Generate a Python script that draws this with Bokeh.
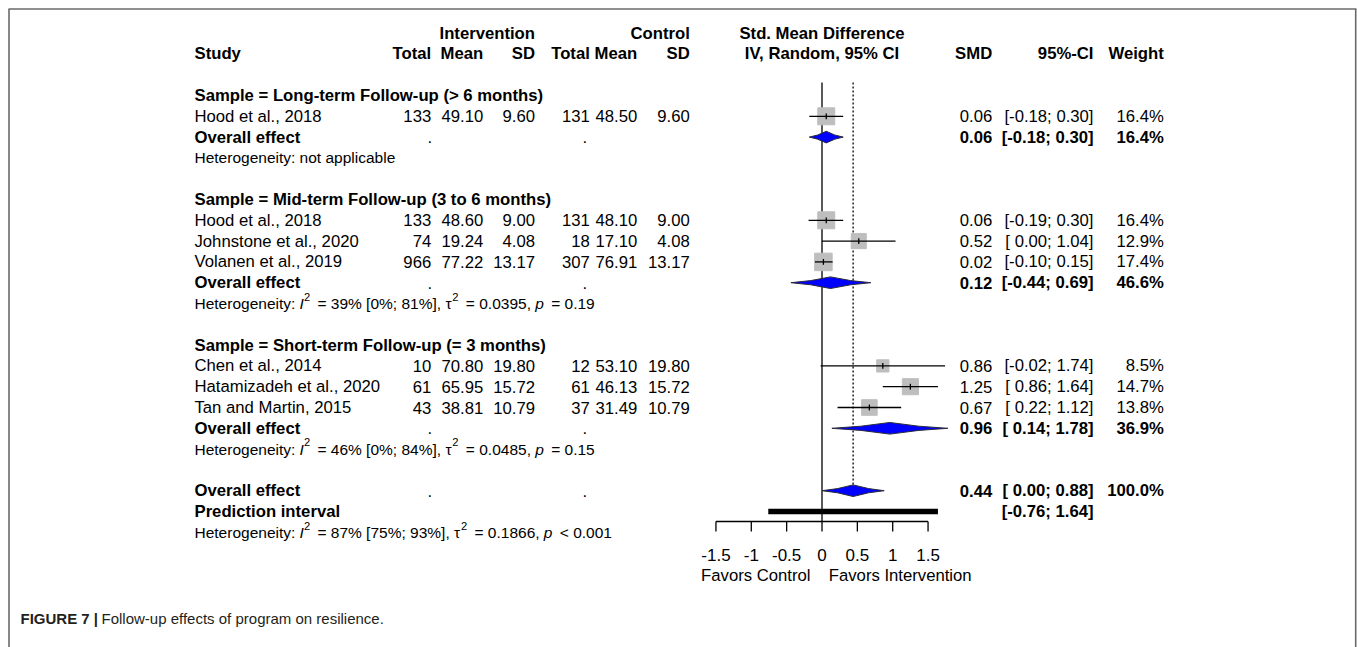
import numpy as np
from bokeh.plotting import figure
from bokeh.models import Range1d
from bokeh.core.properties import value
from bokeh.embed import file_html
from bokeh.resources import INLINE

# ---------------- data ----------------
groups = ["Sample = Long-term Follow-up (> 6 months)",
          "Sample = Mid-term Follow-up (3 to 6 months)",
          "Sample = Short-term Follow-up (= 3 months)"]
study_group = [0, 1, 1, 1, 2, 2, 2]
studies = ["Hood et al., 2018", "Hood et al., 2018", "Johnstone et al., 2020",
           "Volanen et al., 2019", "Chen et al., 2014", "Hatamizadeh et al., 2020",
           "Tan and Martin, 2015"]
int_total = [133, 133, 74, 966, 10, 61, 43]
int_mean = [49.10, 48.60, 19.24, 77.22, 70.80, 65.95, 38.81]
int_sd = [9.60, 9.00, 4.08, 13.17, 19.80, 15.72, 10.79]
ctl_total = [131, 131, 18, 307, 12, 61, 37]
ctl_mean = [48.50, 48.10, 17.10, 76.91, 53.10, 46.13, 31.49]
ctl_sd = [9.60, 9.00, 4.08, 13.17, 19.80, 15.72, 10.79]
smd = [0.06, 0.06, 0.52, 0.02, 0.86, 1.25, 0.67]
ci_lo = [-0.18, -0.19, 0.00, -0.10, -0.02, 0.86, 0.22]
ci_hi = [0.30, 0.30, 1.04, 0.15, 1.74, 1.64, 1.12]
weight = [16.4, 16.4, 12.9, 17.4, 8.5, 14.7, 13.8]

grp_smd = [0.06, 0.12, 0.96]
grp_lo = [-0.18, -0.44, 0.14]
grp_hi = [0.30, 0.69, 1.78]
grp_weight = [16.4, 46.6, 36.9]
# heterogeneity: I2, I2 CI, tau2, p-text
grp_het = [None, ("39%", "[0%; 81%]", "0.0395", "= 0.19"), ("46%", "[0%; 84%]", "0.0485", "= 0.15")]

tot_smd, tot_lo, tot_hi, tot_weight = 0.44, 0.00, 0.88, 100.0
pred_lo, pred_hi = -0.76, 1.64
tot_het = ("87%", "[75%; 93%]", "0.1866", "< 0.001")

ticks = [-1.5, -1, -0.5, 0, 0.5, 1, 1.5]
tick_labels = ["-1.5", "-1", "-0.5", "0", "0.5", "1", "1.5"]

# ---------------- layout helpers ----------------
W, H = 1357, 647
X0, XS = 821.5, 70.7   # page px of SMD = 0, px per SMD unit
Y0, YS = 95.0, 20.8    # page px of row 0, px per row


def px(x):
    return (x - X0) / XS


def rw(y):
    return (y - Y0) / YS


FONT = value("Liberation Sans")
FS = "16.7px"
HFS = 15.5

p = figure(width=W, height=H, output_backend="svg", toolbar_location=None,
           x_range=Range1d(px(0), px(W)), y_range=Range1d(rw(H), rw(0)),
           x_axis_type=None, y_axis_type=None, min_border=0)
p.outline_line_color = None
p.background_fill_color = "white"
p.border_fill_color = "white"


def txt(xs, ys, ts, size=FS, style="normal", align="left", color="black"):
    p.text(x=list(xs), y=list(ys), text=list(ts), text_font=FONT,
           text_font_size=value(size), text_font_style=style,
           text_align=align, text_baseline="middle", text_color=color)


def ci_txt(lo, hi):
    return f"[{lo:5.2f}; {hi:.2f}]"


# Arial / Liberation Sans advance widths (1/1000 em) for the rich-text lines
CW = {" ": 278, ".": 278, ",": 278, ";": 278, ":": 278, "%": 889, "[": 278, "]": 278,
      "=": 584, "<": 584, "H": 722, "e": 556, "t": 278, "r": 333, "o": 556, "g": 556,
      "n": 556, "i": 222, "y": 500, "I": 278, "p": 556, "\u03c4": 450}
EQ_PAD = 3.0  # extra plotmath spacing around relations (px)


def tw(s, size):
    return sum(CW.get(c, 556) for c in s) * size / 1000.0


def rich_line(x_page, row, pieces, fs):
    x = x_page
    for s, kind in pieces:
        size = fs * 0.72 if kind == "sup" else fs
        lead = len(s) - len(s.lstrip(" "))
        body = s.strip(" ")
        if body.startswith("=") or body.startswith("<"):
            x += EQ_PAD
        xx = x + tw(" " * lead, size)
        yy = row - 0.32 if kind == "sup" else row
        style = "italic" if kind == "it" else "normal"
        txt([px(xx)], [yy], [body], size=f"{size:.2f}px", style=style)
        x += tw(s, size)


# ---------------- rows ----------------
study_rows, grp_rows, grp_tot_rows, grp_het_rows = [], [], [], []
r = 0
for g in range(len(groups)):
    grp_rows.append(r)
    r += 1
    for i, sg in enumerate(study_group):
        if sg == g:
            study_rows.append(r)
            r += 1
    grp_tot_rows.append(r)
    r += 1
    grp_het_rows.append(r)
    r += 2
tot_row, pred_row, tot_het_row = r, r + 1, r + 2

# column anchors (page px)
C_STUDY = 194
C_IT, C_IM, C_IS = 430.7, 482.7, 534.5
C_CT, C_CM, C_CS = 589.3, 636.7, 689.3
C_SMD, C_CI, C_W = 991.7, 1093.0, 1163.3

# ---------------- border ----------------
p.segment(x0=[px(8.5), px(8), px(1355.2)], y0=[rw(H), rw(8.5), rw(8.5)],
          x1=[px(8.5), px(1356), px(1355.2)], y1=[rw(8.5), rw(8.5), rw(H)],
          line_color="#6a6a6a", line_width=1.6)

# ---------------- headers ----------------
hr1, hr2 = -3, -2
txt([px(C_IS), px(C_CS)], [hr1, hr1], ["Intervention", "Control"], style="bold", align="right")
txt([px(C_STUDY)], [hr2], ["Study"], style="bold")
txt([px(c) for c in (C_IT, C_IM, C_IS, C_CT, C_CM, C_CS)], [hr2] * 6,
    ["Total", "Mean", "SD", "Total", "Mean", "SD"], style="bold", align="right")
txt([0, 0], [hr1, hr2], ["Std. Mean Difference", "IV, Random, 95% CI"], style="bold", align="center")
txt([px(C_SMD), px(C_CI), px(C_W)], [hr2] * 3, ["SMD", "95%-CI", "Weight"], style="bold", align="right")

# ---------------- reference lines ----------------
axis_row = rw(521)
p.segment(x0=[0], y0=[-0.62], x1=[0], y1=[axis_row], line_color="black", line_width=1.3)
p.segment(x0=[tot_smd], y0=[-0.62], x1=[tot_smd], y1=[tot_row - 0.27],
          line_color="black", line_width=1.3, line_dash="2 2")

# ---------------- study rows ----------------
txt([px(C_STUDY)] * len(groups), grp_rows, groups, style="bold")
txt([px(C_STUDY)] * len(studies), study_rows, studies)
txt([px(C_IT)] * 7, study_rows, [str(v) for v in int_total], align="right")
txt([px(C_IM)] * 7, study_rows, [f"{v:.2f}" for v in int_mean], align="right")
txt([px(C_IS)] * 7, study_rows, [f"{v:.2f}" for v in int_sd], align="right")
txt([px(C_CT)] * 7, study_rows, [str(v) for v in ctl_total], align="right")
txt([px(C_CM)] * 7, study_rows, [f"{v:.2f}" for v in ctl_mean], align="right")
txt([px(C_CS)] * 7, study_rows, [f"{v:.2f}" for v in ctl_sd], align="right")
txt([px(C_SMD)] * 7, study_rows, [f"{v:.2f}" for v in smd], align="right")
txt([px(C_CI)] * 7, study_rows, [ci_txt(a, b) for a, b in zip(ci_lo, ci_hi)], align="right")
txt([px(C_W)] * 7, study_rows, [f"{w:.1f}%" for w in weight], align="right")

p.scatter(x=smd, y=study_rows, marker="square", size=[4.2 * np.sqrt(w) for w in weight],
          fill_color="#bebebe", line_color="#bebebe")
p.segment(x0=ci_lo, y0=study_rows, x1=ci_hi, y1=study_rows, line_color="black", line_width=1.3)
p.segment(x0=smd, y0=[v - 0.14 for v in study_rows], x1=smd, y1=[v + 0.14 for v in study_rows],
          line_color="black", line_width=1.3)

# ---------------- subgroup totals ----------------
all_tot_rows = grp_tot_rows + [tot_row]
txt([px(C_STUDY)] * 4, all_tot_rows, ["Overall effect"] * 4, style="bold")
txt([px(429.3)] * 4 + [px(584.3)] * 4, all_tot_rows * 2, ["."] * 8, align="center")
txt([px(C_SMD)] * 4, all_tot_rows, [f"{v:.2f}" for v in grp_smd + [tot_smd]], style="bold", align="right")
txt([px(C_CI)] * 5, all_tot_rows + [pred_row],
    [ci_txt(a, b) for a, b in zip(grp_lo + [tot_lo], grp_hi + [tot_hi])] + [ci_txt(pred_lo, pred_hi)],
    style="bold", align="right")
txt([px(C_W)] * 4, all_tot_rows, [f"{w:.1f}%" for w in grp_weight + [tot_weight]], style="bold", align="right")

# diamonds (slightly concave sides, as rendered in the reference)
d_lo = grp_lo + [tot_lo]
d_hi = grp_hi + [tot_hi]
d_m = grp_smd + [tot_smd]
DH = 0.28
dxs, dys = [], []
for a, m, b, rr in zip(d_lo, d_m, d_hi, all_tot_rows):
    la, lb = m - 0.5 * (m - a), m + 0.5 * (b - m)
    dxs.append([a, la, m, lb, b, lb, m, la])
    dys.append([rr, rr - 0.36 * DH, rr - DH, rr - 0.36 * DH, rr, rr + 0.36 * DH, rr + DH, rr + 0.36 * DH])
p.patches(xs=dxs, ys=dys, fill_color="#0000ff", line_color="#2a2a3a", line_width=1)

# prediction interval
txt([px(C_STUDY)], [pred_row], ["Prediction interval"], style="bold")
p.segment(x0=[pred_lo], y0=[pred_row], x1=[pred_hi], y1=[pred_row],
          line_color="black", line_width=5.5, line_cap="butt")

# ---------------- heterogeneity ----------------
txt([px(C_STUDY)], [grp_het_rows[0]], ["Heterogeneity: not applicable"], size=f"{HFS}px")

for row_, h in [(grp_het_rows[1], grp_het[1]), (grp_het_rows[2], grp_het[2]), (tot_het_row, tot_het)]:
    i2, i2ci, tau2, ptxt = h
    rich_line(C_STUDY, row_, [("Heterogeneity: ", "n"), ("I", "it"), ("2", "sup"),
                              (f" = {i2} {i2ci}, ", "n"), ("\u03c4", "n"), ("2", "sup"),
                              (f" = {tau2}, ", "n"), ("p", "it"), (f" {ptxt}", "n")], HFS)

# ---------------- x axis ----------------
p.segment(x0=[ticks[0]], y0=[axis_row], x1=[ticks[-1]], y1=[axis_row], line_color="black", line_width=1.3)
p.segment(x0=ticks, y0=[axis_row] * len(ticks), x1=ticks, y1=[axis_row + 10 / YS] * len(ticks),
          line_color="black", line_width=1.3)
txt(ticks, [rw(554.5)] * len(ticks), tick_labels, size="17px", align="center")
txt([px(810)], [rw(575)], ["Favors Control"], align="right")
txt([px(828.3)], [rw(575)], ["Favors Intervention"])

# ---------------- caption ----------------
txt([px(20)], [rw(618)], ["FIGURE 7 |"], size="15px", style="bold", color="#231f20")
txt([px(101)], [rw(618)], ["Follow-up effects of program on resilience."], size="15px", color="#231f20")

open("out.html", "w").write(file_html(p, INLINE))
